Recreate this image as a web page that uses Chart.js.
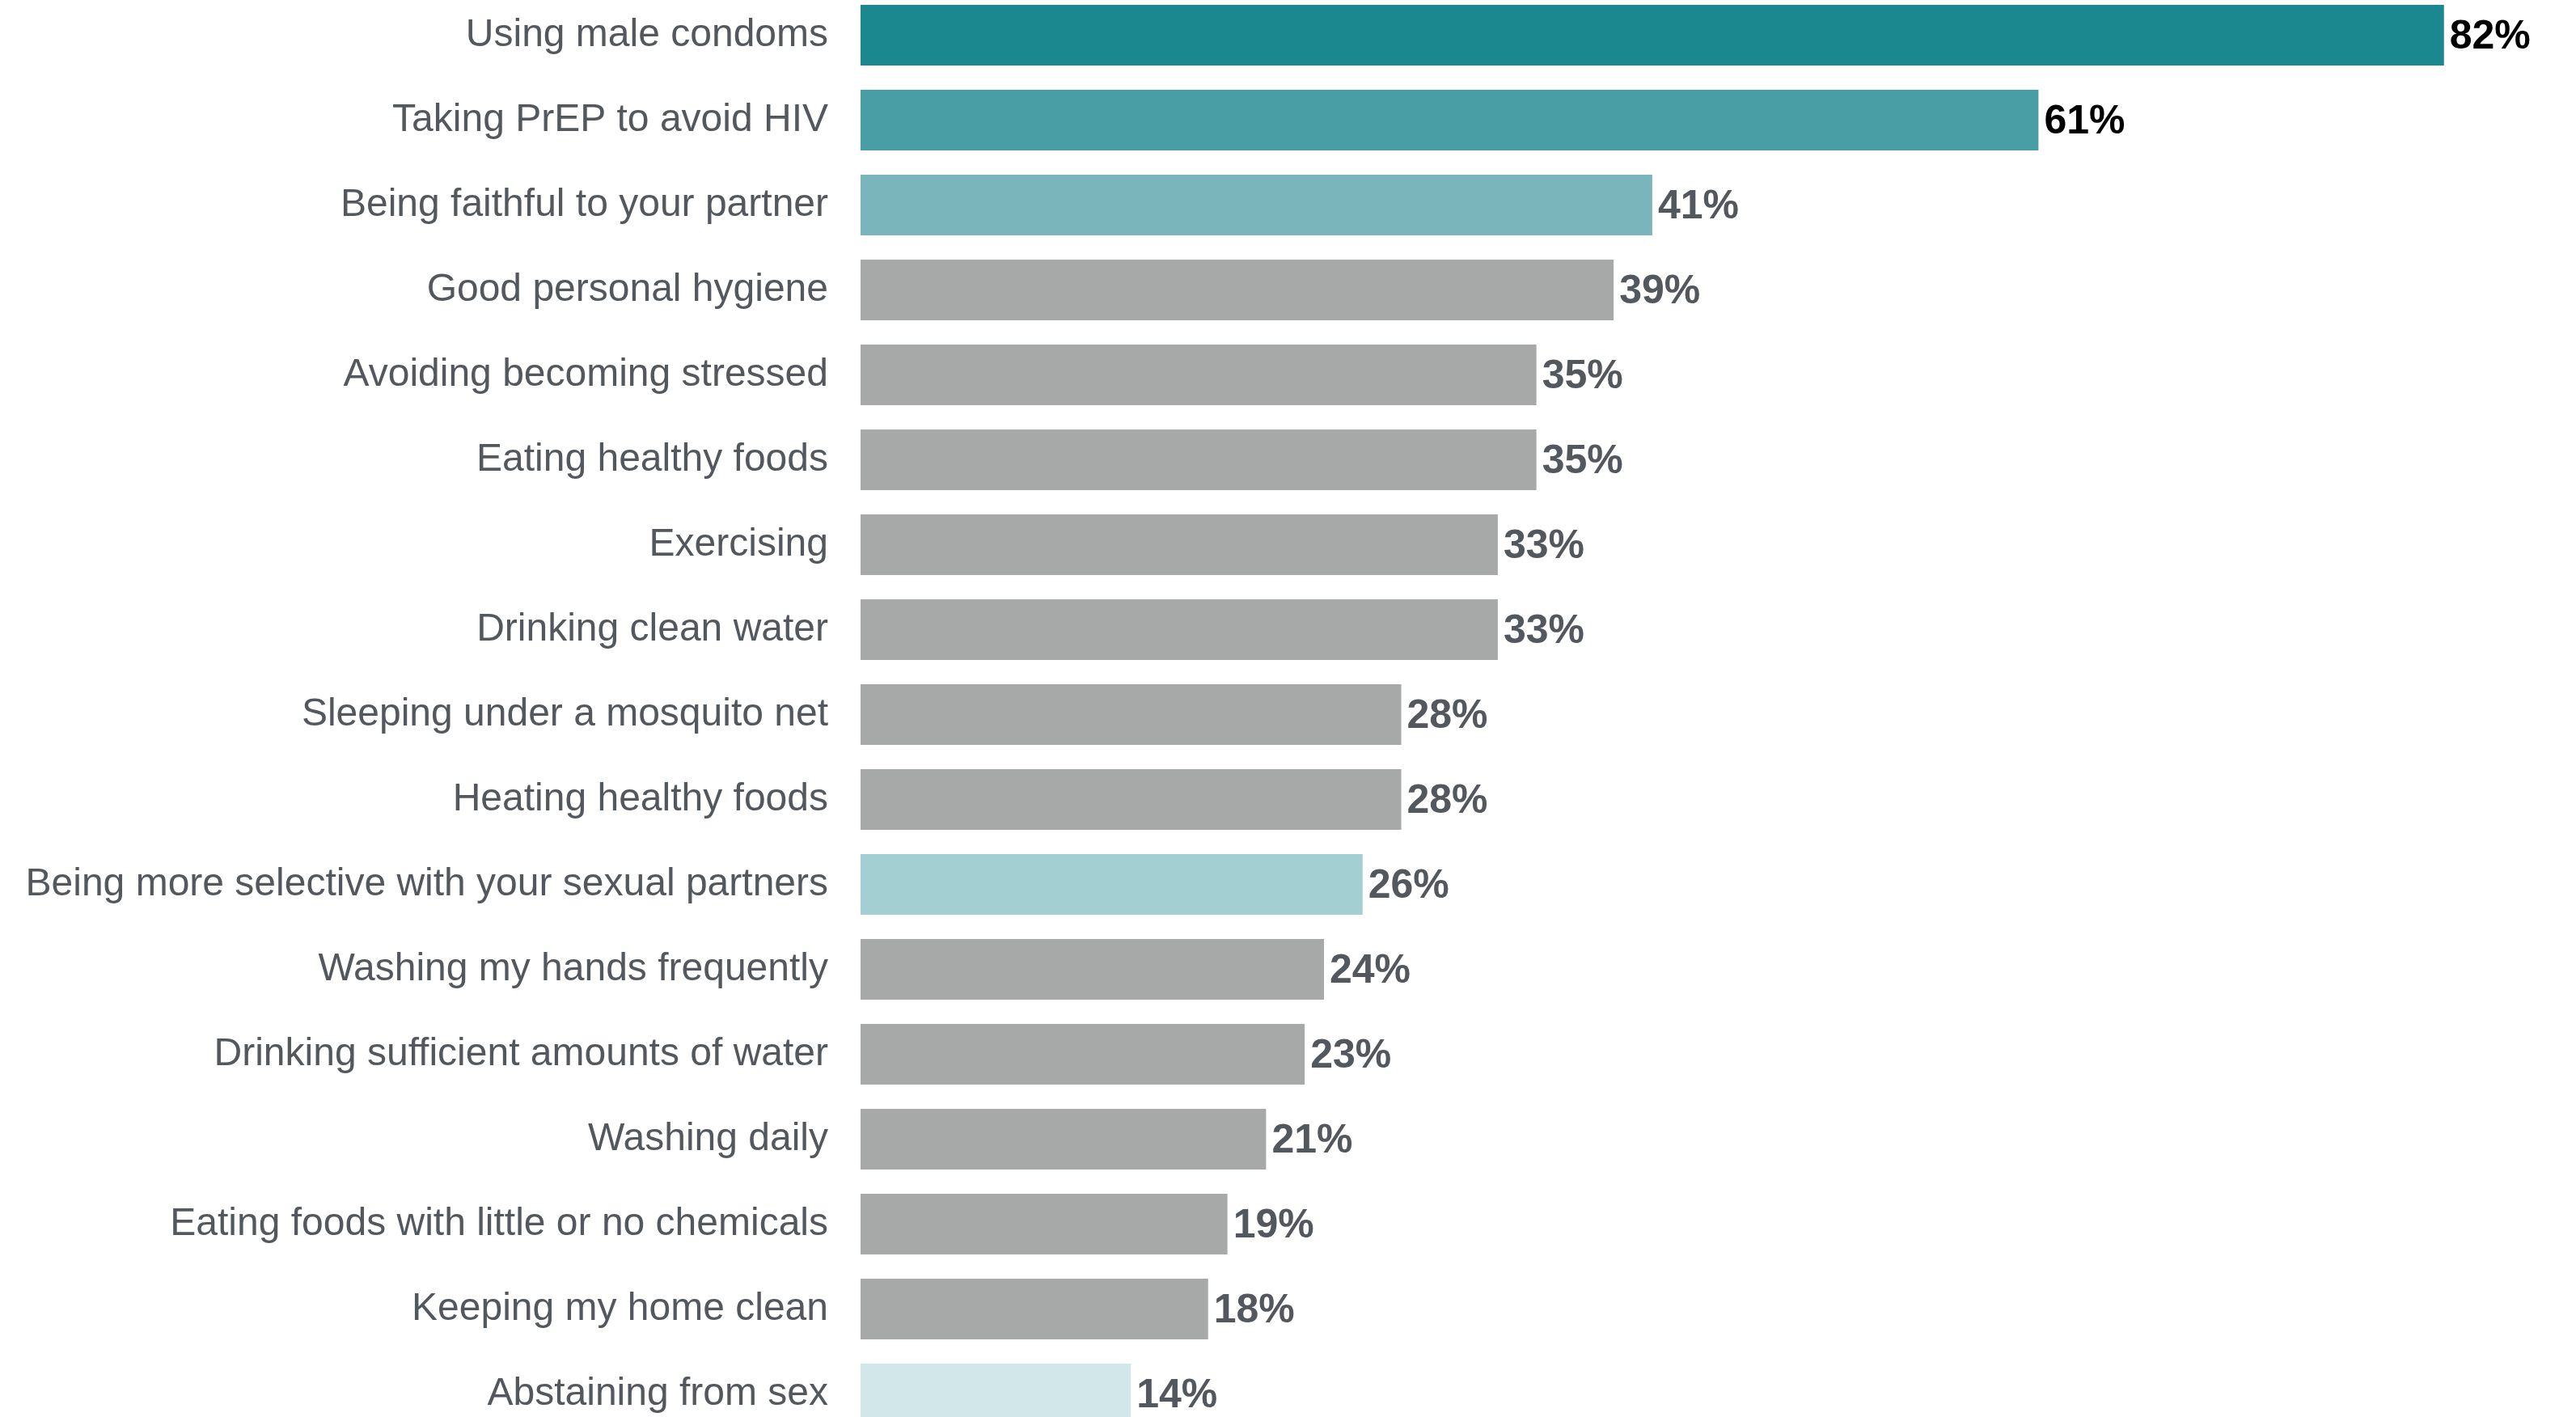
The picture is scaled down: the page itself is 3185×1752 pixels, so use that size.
<!DOCTYPE html>
<html>
<head>
<meta charset="utf-8">
<script src="https://cdn.jsdelivr.net/npm/chart.js@4/dist/chart.umd.min.js"></script>
<style>
  html, body { margin: 0; padding: 0; background: #fff; overflow: hidden; }
  body { width: 3185px; height: 1752px; position: relative; }
  #chart { position: absolute; left: 0; top: -9px; }
</style>
</head>
<body>
<canvas id="chart" width="3185" height="1785"></canvas>
<script>
// ===== DATA =====
const labels = [
  "Using male condoms",
  "Taking PrEP to avoid HIV",
  "Being faithful to your partner",
  "Good personal hygiene",
  "Avoiding becoming stressed",
  "Eating healthy foods",
  "Exercising",
  "Drinking clean water",
  "Sleeping under a mosquito net",
  "Heating healthy foods",
  "Being more selective with your sexual partners",
  "Washing my hands frequently",
  "Drinking sufficient amounts of water",
  "Washing daily",
  "Eating foods with little or no chemicals",
  "Keeping my home clean",
  "Abstaining from sex"
];
const values = [82, 61, 41, 39, 35, 35, 33, 33, 28, 28, 26, 24, 23, 21, 19, 18, 14];
const barColors = [
  "#1b878e", "#489ea4", "#7ab5bb", "#a6a9a8", "#a6a9a8", "#a6a9a8", "#a6a9a8",
  "#a6a9a8", "#a6a9a8", "#a6a9a8", "#a3cfd3", "#a6a9a8", "#a6a9a8", "#a6a9a8",
  "#a6a9a8", "#a6a9a8", "#d2e7ea"
];
const valueColors = ["#000000", "#000000"]; // rest use default grey

const FONT = '"Liberation Sans", Arial, Helvetica, sans-serif';
const GREY_TEXT = '#53585e';

// ===== VALUE LABELS =====
const valueLabels = {
  id: 'valueLabels',
  afterDatasetsDraw(chart) {
    const ctx = chart.ctx;
    const meta = chart.getDatasetMeta(0);
    ctx.save();
    ctx.font = 'bold 50px ' + FONT;
    ctx.textAlign = 'left';
    ctx.textBaseline = 'middle';
    meta.data.forEach((bar, i) => {
      ctx.fillStyle = valueColors[i] || GREY_TEXT;
      ctx.fillText(values[i] + '%', bar.x + 7, bar.y + 3);
    });
    ctx.restore();
  }
};

new Chart(document.getElementById('chart'), {
  type: 'bar',
  data: {
    labels: labels,
    datasets: [{
      data: values,
      backgroundColor: barColors,
      borderWidth: 0,
      categoryPercentage: 1,
      barPercentage: 0.714
    }]
  },
  options: {
    indexAxis: 'y',
    responsive: false,
    animation: false,
    devicePixelRatio: 1,
    layout: { padding: { left: 0, right: 20, top: 0, bottom: 0 } },
    plugins: {
      legend: { display: false },
      tooltip: { enabled: false }
    },
    scales: {
      x: { display: false, min: 0, max: 88 },
      y: {
        grid: { display: false },
        border: { display: false },
        afterFit(scale) {
          scale.width = 1064;
          scale.paddingTop = 0;
          scale.paddingBottom = 0;
        },
        ticks: {
          color: GREY_TEXT,
          padding: 32,
          font: { family: FONT, size: 48 }
        }
      }
    }
  },
  plugins: [valueLabels]
});
</script>
</body>
</html>
